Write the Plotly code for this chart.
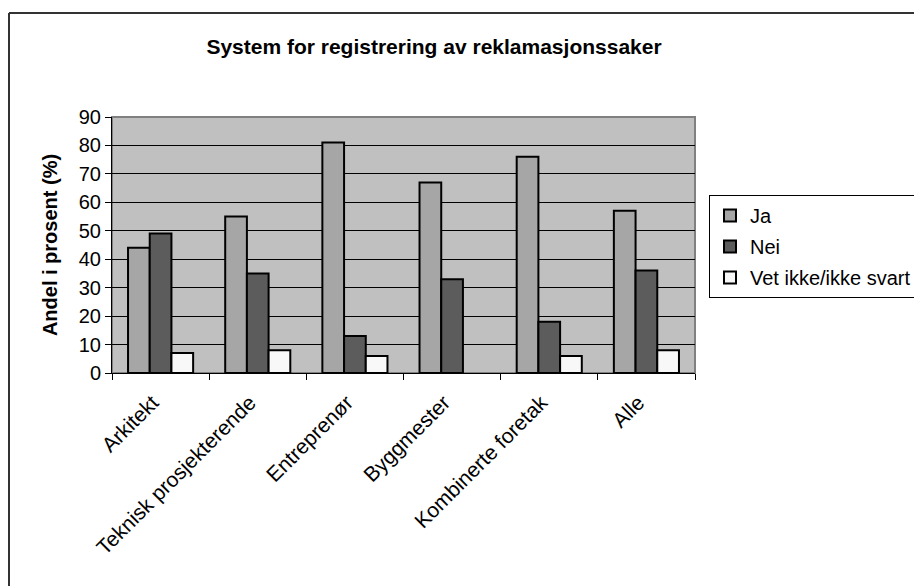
import plotly.graph_objects as go

categories = ["Arkitekt", "Teknisk prosjekterende", "Entreprenør", "Byggmester", "Kombinerte foretak", "Alle"]
ja = [44, 55, 81, 67, 76, 57]
nei = [49, 35, 13, 33, 18, 36]
vet_ikke = [7, 8, 6, None, 6, 8]
series_names = ["Ja", "Nei", "Vet ikke/ikke svart"]
series_colors = ["#a6a6a6", "#5c5c5c", "#f8f8f8"]
y_ticks = [0, 10, 20, 30, 40, 50, 60, 70, 80, 90]

# page has an 8px body margin; figure coordinates = page coordinates - 8
OFF = 8
W, H = 922 - OFF, 586 - OFF
L, T = 112 - OFF, 117 - OFF
pw, ph = 583, 256
R, B = W - L - pw, H - T - ph

def px_x(px):  # page px -> paper x
    return (px - OFF - L) / pw

def px_y(py):  # page px -> paper y
    return (T + ph - (py - OFF)) / ph

FONT = "Liberation Sans, Arial, sans-serif"

fig = go.Figure()
for name, vals, col in zip(series_names, [ja, nei, vet_ikke], series_colors):
    fig.add_trace(go.Bar(
        x=categories, y=vals, name=name, legendgroup=name,
        marker=dict(color=col, line=dict(color="black", width=2)),
    ))

fig.update_layout(
    width=W, height=H,
    margin=dict(l=L, r=R, t=T, b=B, pad=0, autoexpand=False),
    paper_bgcolor="white", plot_bgcolor="#c0c0c0",
    barmode="group", bargap=0.33, bargroupgap=0,
    font=dict(family=FONT, size=20, color="black"),
    title=dict(text="<b>System for registrering av reklamasjonssaker</b>",
               x=(434 - OFF) / W, xanchor="center", y=1 - (47 - OFF) / H, yanchor="middle",
               font=dict(size=21, family=FONT, color="black")),
    legend=dict(x=px_x(709), y=px_y(195), xanchor="left", yanchor="top",
                bgcolor="white", bordercolor="black", borderwidth=1,
                traceorder="grouped", tracegroupgap=2,
                font=dict(size=20, family=FONT), itemwidth=30),
    showlegend=True,
)
fig.update_xaxes(
    showline=True, linecolor="black", linewidth=1,
    ticks="outside", ticklen=6, tickcolor="black", tickson="boundaries",
    tickangle=-45, showgrid=False, automargin=False,
    ticklabelstandoff=8, ticklabelshift=-8,
    tickfont=dict(size=21, family=FONT),
)
fig.update_yaxes(
    range=[0, 90], tickvals=y_ticks,
    showline=True, linecolor="black", linewidth=1,
    ticks="outside", ticklen=6, tickcolor="black",
    showgrid=True, gridcolor="black", gridwidth=1, zeroline=False, automargin=False,
    tickfont=dict(size=20, family=FONT),
    title=dict(text="<b>Andel i prosent (%)</b>", font=dict(size=20, family=FONT), standoff=15),
)
# plot area border (grey)
fig.add_shape(type="rect", xref="paper", yref="paper", x0=0, y0=0, x1=1, y1=1,
              line=dict(color="#808080", width=2), fillcolor="rgba(0,0,0,0)", layer="below")
# outer chart border (left and top visible)
fig.add_shape(type="line", xref="paper", yref="paper", x0=px_x(9), x1=px_x(9), y0=px_y(13), y1=px_y(600),
              line=dict(color="#333333", width=2))
fig.add_shape(type="line", xref="paper", yref="paper", x0=px_x(9), x1=px_x(940), y0=px_y(13), y1=px_y(13),
              line=dict(color="#333333", width=2))

fig.write_html("out.html")
